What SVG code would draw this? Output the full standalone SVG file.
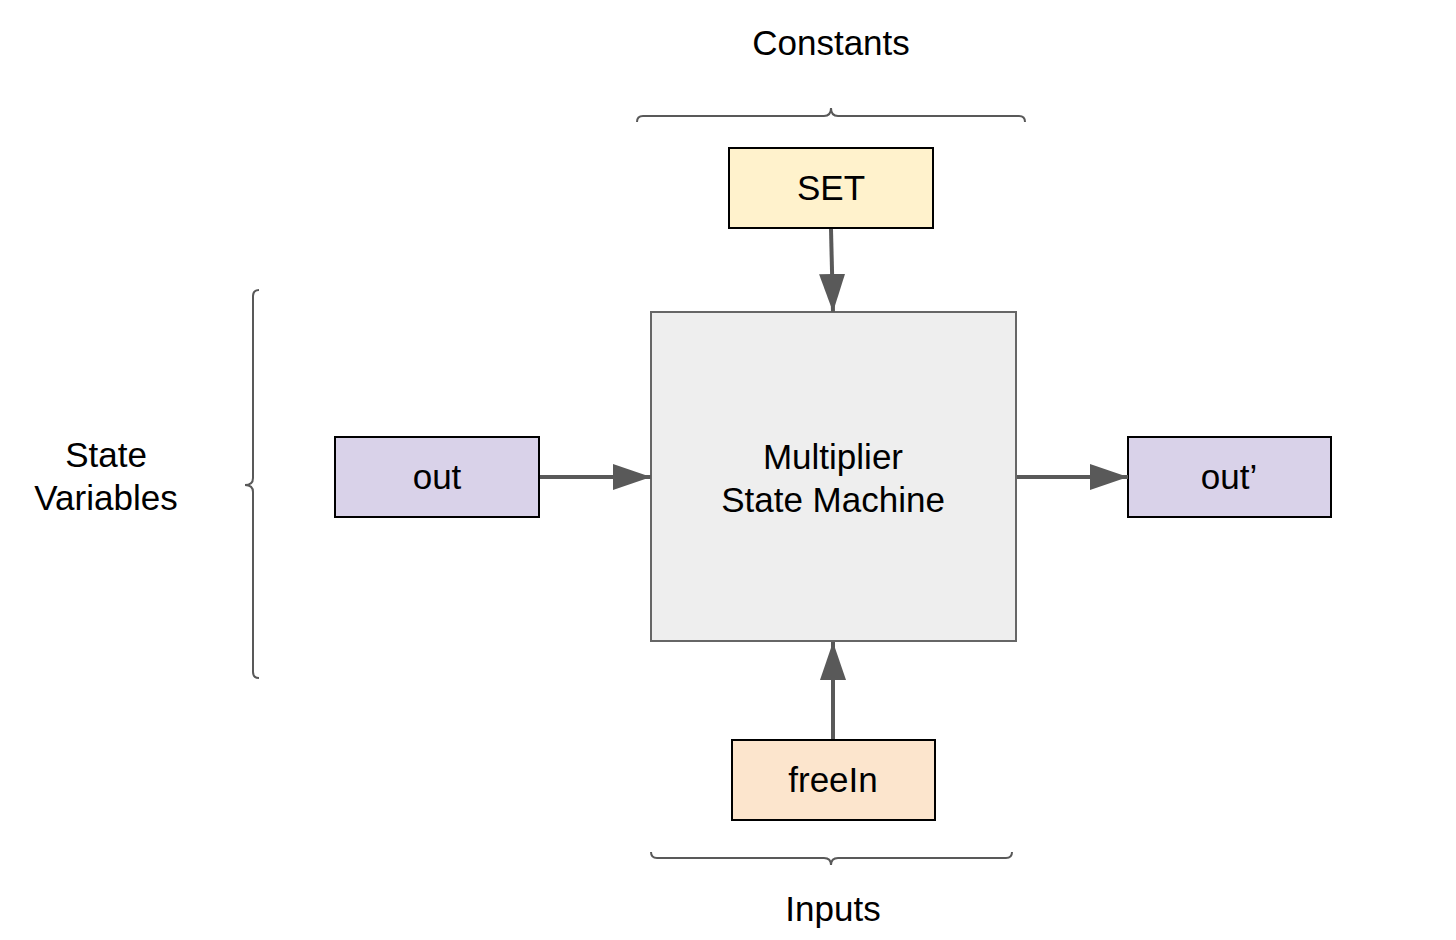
<svg xmlns="http://www.w3.org/2000/svg" width="1456" height="940" viewBox="0 0 1456 940">
<style>
text{font-family:"Liberation Sans",Arial,sans-serif;font-size:35px;fill:#000;text-anchor:middle}
.box{stroke:#000;stroke-width:2}
.brace{fill:none;stroke:#595959;stroke-width:2}
.conn{stroke:#595959;stroke-width:4;fill:none}
</style>
<defs>
<marker id="ah" markerUnits="userSpaceOnUse" markerWidth="40" markerHeight="28" refX="38" refY="13" orient="auto">
<path d="M0,0 L38,13 L0,26 Z" fill="#595959"/>
</marker>
</defs>
<rect width="1456" height="940" fill="#fff"/>
<g id="labels">
<text x="831" y="55">Constants</text>
<text x="833" y="921">Inputs</text>
<text x="106" y="467">State</text>
<text x="106" y="510">Variables</text>
</g>
<g id="braces">
<path class="brace" d="M637,122 Q637,116 643,116 L824,116 Q831,116 831,108 Q831,116 838,116 L1019,116 Q1025,116 1025,122"/>
<path class="brace" d="M259,290 Q253,290 253,296 L253,478 Q253,485 245,485 Q253,485 253,492 L253,672 Q253,678 259,678"/>
<path class="brace" d="M651,852 Q651,858 657,858 L824,858 Q831,858 831,865 Q831,858 838,858 L1006,858 Q1012,858 1012,852"/>
</g>
<g id="main">
<rect x="651" y="312" width="365" height="329" fill="#eeeeee" stroke="#666666" stroke-width="2"/>
<text x="833" y="469">Multiplier</text>
<text x="833" y="512">State Machine</text>
</g>
<g id="set">
<rect class="box" x="729" y="148" width="204" height="80" fill="#fff2cc"/>
<text x="831" y="200">SET</text>
</g>
<g id="out">
<rect class="box" x="335" y="437" width="204" height="80" fill="#d9d2e9"/>
<text x="437" y="489">out</text>
</g>
<g id="outp">
<rect class="box" x="1128" y="437" width="203" height="80" fill="#d9d2e9"/>
<text x="1229" y="489">out’</text>
</g>
<g id="freein">
<rect class="box" x="732" y="740" width="203" height="80" fill="#fce5cd"/>
<text x="833" y="792">freeIn</text>
</g>
<g id="connectors">
<line class="conn" x1="831" y1="229" x2="833" y2="312" marker-end="url(#ah)"/>
<line class="conn" x1="540" y1="477" x2="651" y2="477" marker-end="url(#ah)"/>
<line class="conn" x1="1017" y1="477" x2="1128" y2="477" marker-end="url(#ah)"/>
<line class="conn" x1="833" y1="739" x2="833" y2="642" marker-end="url(#ah)"/>
</g>
</svg>
